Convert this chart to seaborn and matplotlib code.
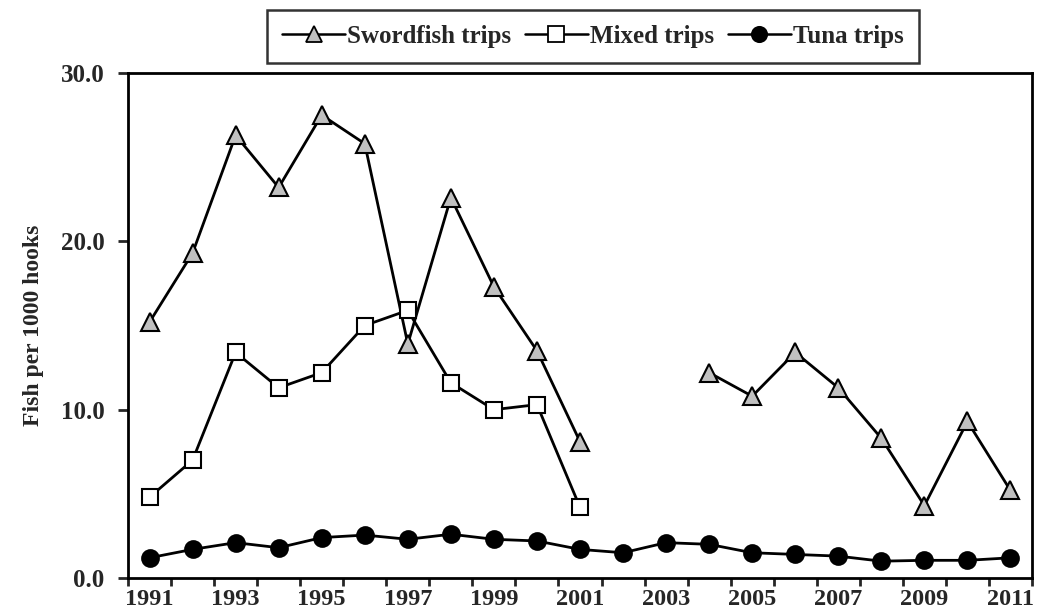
import numpy as np
import pandas as pd
import matplotlib
matplotlib.use("Agg")
import matplotlib.pyplot as plt
from matplotlib.lines import Line2D
import seaborn as sns

# Catch rates (fish per 1000 hooks) by year and trip type
years = list(range(1991, 2012))
swordfish = [15.2, 19.3, 26.3, 23.2, 27.5, 25.8, 13.9, 22.6, 17.3, 13.5, 8.1,
             None, None, 12.2, 10.8, 13.4, 11.3, 8.3, 4.3, 9.3, 5.2]
mixed = [4.8, 7.0, 13.4, 11.3, 12.2, 15.0, 15.9, 11.6, 10.0, 10.3, 4.2,
         None, None, None, None, None, None, None, None, None, None]
tuna = [1.2, 1.7, 2.1, 1.8, 2.4, 2.55, 2.3, 2.6, 2.3, 2.2, 1.7,
        1.5, 2.1, 2.0, 1.5, 1.4, 1.3, 1.0, 1.05, 1.05, 1.2]
series_names = ["Swordfish trips", "Mixed trips", "Tuna trips"]
label_years = list(range(1991, 2012, 2))
y_ticks = [0, 10, 20, 30]

sns.set_style("ticks")
plt.rcParams["font.family"] = ["Liberation Serif", "DejaVu Serif"]
plt.rcParams["font.weight"] = "bold"


def to_frame(values):
    df = pd.DataFrame({"year": years, "value": values}, dtype=float)
    # consecutive runs of valid values form separate line segments
    df["segment"] = df["value"].isna().cumsum()
    return df.dropna()


styles = {
    "Swordfish trips": dict(marker="^", markerfacecolor="#c0c0c0", markersize=13),
    "Mixed trips": dict(marker="s", markerfacecolor="white", markersize=12),
    "Tuna trips": dict(marker="o", markerfacecolor="black", markersize=12),
}

fig = plt.figure(figsize=(10.37, 6.16), dpi=100)
ax = fig.add_axes([128 / 1037, 38 / 616, 904 / 1037, 505 / 616])

for name, values in zip(series_names, [swordfish, mixed, tuna]):
    df = to_frame(values)
    sns.lineplot(data=df, x="year", y="value", units="segment", estimator=None,
                 color="black", linewidth=2, markeredgecolor="black",
                 markeredgewidth=1.5, ax=ax, legend=False, **styles[name])

ax.set_xlim(1990.5, 2011.5)
ax.set_ylim(0, 30)
ax.set_xticks(np.arange(1990.5, 2012, 1))
ax.set_xticklabels([])
ax.set_xticks(label_years, minor=True)
ax.set_xticklabels([str(y) for y in label_years], minor=True,
                   fontsize=17.5, fontweight="bold")
ax.tick_params(axis="x", which="major", direction="out", length=6, width=2)
ax.tick_params(axis="x", which="minor", length=0, pad=8)
ax.set_yticks(y_ticks)
ax.set_yticklabels([f"{v:.1f}" for v in y_ticks], fontsize=18, fontweight="bold")
ax.tick_params(axis="y", direction="out", length=7, width=2, pad=10)
for spine in ax.spines.values():
    spine.set_visible(True)
    spine.set_linewidth(2)
    spine.set_color("black")
ax.set_xlabel("")
ax.set_ylabel("Fish per 1000 hooks", fontsize=17, fontweight="bold")
ax.yaxis.set_label_coords(-84 / 904, 0.5)

handles = [Line2D([], [], color="black", linewidth=1.8, markeredgecolor="black",
                  markeredgewidth=1.3,
                  **{**styles[n], "markersize": styles[n]["markersize"] - 1})
           for n in series_names]
leg = fig.legend(handles, series_names, loc="upper center", ncol=3,
                 bbox_to_anchor=(593 / 1037, 1 - 10 / 616),
                 prop={"family": "Liberation Serif", "weight": "bold", "size": 18},
                 frameon=True, fancybox=False, edgecolor="black",
                 handlelength=2.5, handletextpad=0.1, columnspacing=0.55,
                 borderpad=0.6, borderaxespad=0)
leg.get_frame().set_linewidth(1.8)

fig.savefig("out.png", dpi=100)
